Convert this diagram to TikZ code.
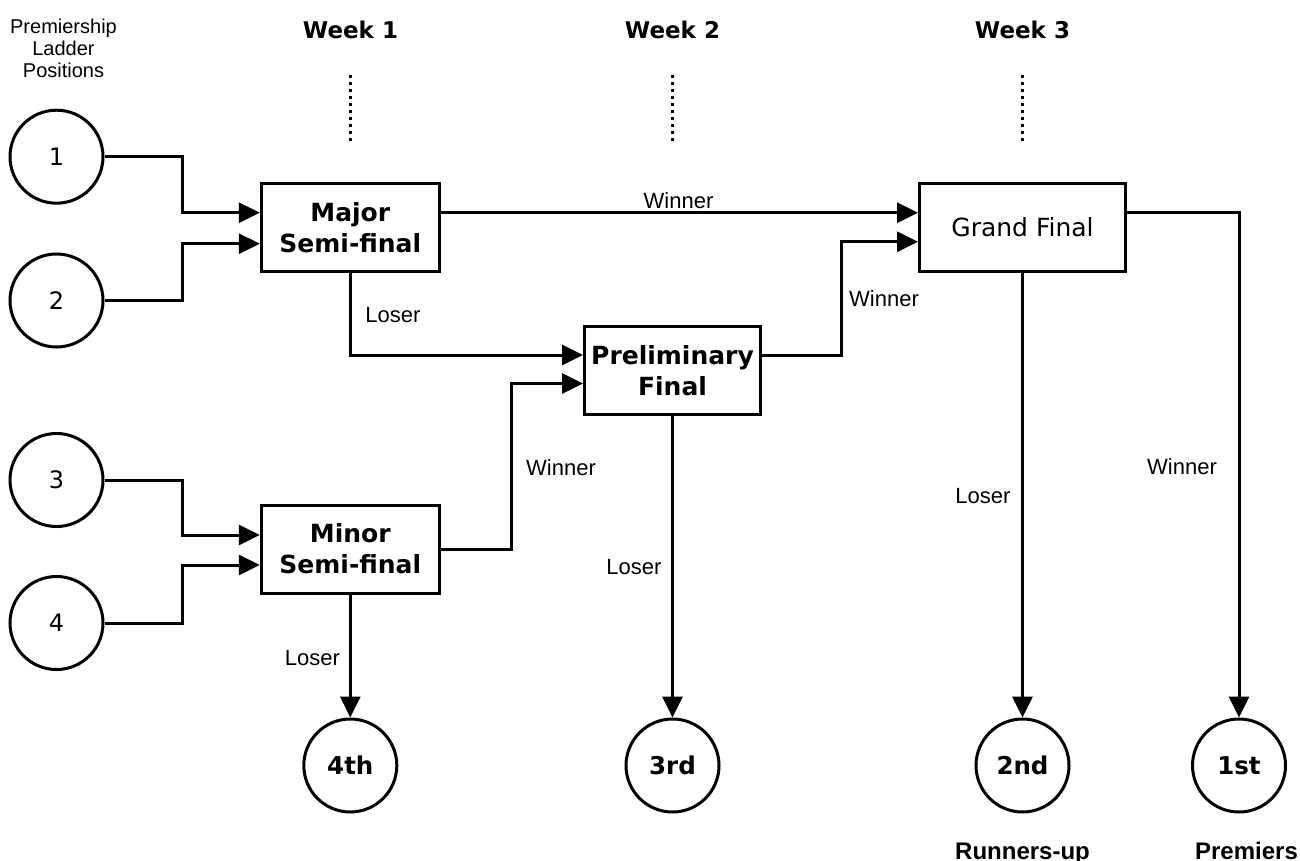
\documentclass[tikz,border=0pt]{standalone}
\usepackage{fontspec}
\setmainfont{DejaVu Sans}
\newfontfamily\lab{Liberation Sans}
\usetikzlibrary{arrows.meta}
\begin{document}
\begin{tikzpicture}[x=1pt,y=-1pt, line width=3pt,
  circnode/.style={circle,draw,minimum size=93pt,inner sep=0pt,font=\fontsize{24}{28}\selectfont},
  resnode/.style={circle,draw,minimum size=93pt,inner sep=0pt,font=\bfseries\fontsize{24.5}{28}\selectfont},
  boxnode/.style={rectangle,draw,align=center,inner sep=0pt,minimum height=88pt,font=\bfseries\fontsize{25}{31}\selectfont},
  lbl/.style={font=\lab\fontsize{22}{26}\selectfont,inner sep=0pt},
  hdr/.style={font=\bfseries\fontsize{23}{27}\selectfont,inner sep=0pt},
  reslbl/.style={font=\lab\bfseries\fontsize{24}{28}\selectfont,inner sep=0pt,anchor=base},
  conn/.style={-{Triangle[length=21pt,width=20pt]},line join=miter},
  guide/.style={line width=3pt,dash pattern=on 3.5pt off 3.5pt}]
\useasboundingbox (0,0) rectangle (1300,861);
\fill[white] (0,0) rectangle (1300,861);

% headers
\node[lbl,font=\lab\fontsize{20}{22}\selectfont,align=center] (ladder) at (63.5,48.8) {Premiership\\Ladder\\Positions};
\node[hdr] (wk1) at (350.5,29.5) {Week 1};
\node[hdr] (wk2) at (672.5,29.5) {Week 2};
\node[hdr] (wk3) at (1022.5,29.5) {Week 3};
\draw[guide] (350.5,75) -- (350.5,144);
\draw[guide] (672.5,75) -- (672.5,144);
\draw[guide] (1022.5,75) -- (1022.5,144);

% ladder circles
\node[circnode] (c1) at (56.5,156.7) {1};
\node[circnode] (c2) at (56.5,300.5) {2};
\node[circnode] (c3) at (56.5,480) {3};
\node[circnode] (c4) at (56.5,623) {4};

% matches
\node[boxnode,minimum width=178pt] (maj) at (350.3,227.2) {Major\\Semi-final};
\node[boxnode,minimum width=178pt] (mnr) at (350.3,549) {Minor\\Semi-final};
\node[boxnode,minimum width=176pt] (pf) at (672.5,370.5) {Preliminary\\Final};
\node[boxnode,minimum width=206pt,font=\fontsize{25}{31}\selectfont] (gf) at (1022.5,227.2) {Grand Final};

% results
\node[resnode] (b4) at (350.3,765.5) {4th};
\node[resnode] (b3) at (672.5,765.5) {3rd};
\node[resnode] (b2) at (1022.5,765.5) {2nd};
\node[resnode] (b1) at (1239,765.5) {1st};
\node[reslbl] (ru) at (1022.5,859) {Runners-up};
\node[reslbl] (pr) at (1246.5,859) {Premiers};

% connectors
\draw[conn] (c1.east) -- ++(78,0) |- ([yshift=14.5pt]maj.west);
\draw[conn] (c2.east) -- ++(78,0) |- ([yshift=-16.5pt]maj.west);
\draw[conn] (c3.east) -- ++(78,0) |- ([yshift=14pt]mnr.west);
\draw[conn] (c4.east) -- ++(78,0) |- ([yshift=-16pt]mnr.west);
\draw[conn] ([yshift=14.5pt]maj.east) -- ([yshift=14.5pt]gf.west);
\draw[conn] (maj.south) |- ([yshift=15.5pt]pf.west);
\draw[conn] (mnr.east) -- ++(71,0) |- ([yshift=-13pt]pf.west);
\draw[conn] ([yshift=15.5pt]pf.east) -- ++(79.5,0) |- ([yshift=-14.5pt]gf.west);
\draw[conn] ([yshift=14.5pt]gf.east) -| (b1.north);
\draw[conn] (gf.south) -- (b2.north);
\draw[conn] (pf.south) -- (b3.north);
\draw[conn] (mnr.south) -- (b4.north);

% connector labels
\node[lbl] (lw1) at (678.5,200.5) {Winner};
\node[lbl] (ll1) at (393,315) {Loser};
\node[lbl] (lw2) at (884,299) {Winner};
\node[lbl] (lw3) at (561,467.5) {Winner};
\node[lbl] (ll2) at (312.5,658) {Loser};
\node[lbl] (ll3) at (634,567.5) {Loser};
\node[lbl] (ll4) at (983,496.5) {Loser};
\node[lbl] (lw4) at (1182,466.7) {Winner};
\end{tikzpicture}
\end{document}
